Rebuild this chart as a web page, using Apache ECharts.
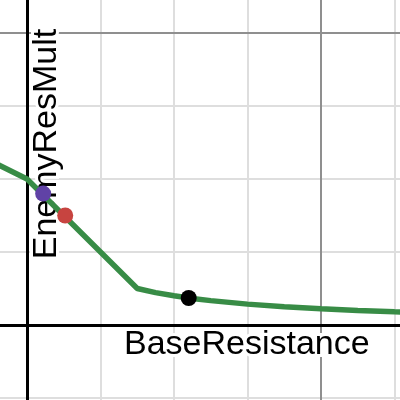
<!DOCTYPE html>
<html>
<head>
<meta charset="utf-8">
<script src="https://cdn.jsdelivr.net/npm/echarts@6/dist/echarts.min.js"></script>
<style>html,body{margin:0;padding:0;background:#fff}#c{width:400px;height:400px}</style>
</head>
<body>
<div id="c"></div>
<script>
// Data
const curveRes  = [-0.5, 0, 0.75, 0.875, 1, 1.125, 1.25, 1.5, 1.75, 2, 2.25, 2.5, 2.75, 3];
const curveMult = [1.25, 1.0, 0.25, 0.222, 0.2, 0.182, 0.167, 0.143, 0.125, 0.111, 0.1, 0.091, 0.083, 0.077];
const pointNames = ['purple', 'red', 'black'];
const pointRes  = [0.11, 0.26, 1.1];
const pointMult = [0.9, 0.75, 0.185];
const pointColors = ['#6042a6', '#c74440', '#000000'];
const xLabel = 'BaseResistance';
const yLabel = 'EnemyResMult';

const FONT = '"Liberation Sans", Arial, sans-serif';
const chart = echarts.init(document.getElementById('c'));

function axisBase(extra) {
  return Object.assign({
    type: 'value', min: -2, max: 3, gridIndex: 0,
    axisLabel: { show: false }, axisTick: { show: false },
    axisLine: { show: false }, splitLine: { show: false }
  }, extra);
}
function yBase(extra) {
  const a = axisBase(extra); a.max = 2.5; return a;
}

const curveData = curveRes.map((x, i) => [x, curveMult[i]]);

chart.setOption({
  animation: false,
  backgroundColor: '#ffffff',
  grid: { left: -267, right: -68, top: -40, bottom: -217, containLabel: false, outerBoundsMode: 'none' },
  xAxis: [
    axisBase({ interval: 0.5, z: 0, splitLine: { show: true, lineStyle: { color: '#dedede', width: 2 } } }),
    axisBase({ interval: 4, z: 1, splitLine: { show: true, lineStyle: { color: '#8f8f8f', width: 2 } } }),
    axisBase({ interval: 0.5, z: 3, axisLine: { show: true, onZero: true, lineStyle: { color: '#000', width: 3 } } })
  ],
  yAxis: [
    yBase({ interval: 0.5, z: 0, splitLine: { show: true, lineStyle: { color: '#dedede', width: 2 } } }),
    yBase({ interval: 4, z: 1, splitLine: { show: true, lineStyle: { color: '#8f8f8f', width: 2 } } }),
    yBase({ interval: 0.5, z: 3, axisLine: { show: true, onZero: true, lineStyle: { color: '#000', width: 3 } } })
  ],
  graphic: [
    { type: 'text', z: 2, x: 124, y: 345,
      style: { text: xLabel, font: '34px ' + FONT, fill: '#000', stroke: '#fff', lineWidth: 6, strokeFirst: true,
               align: 'left', verticalAlign: 'middle' } },
    { type: 'text', z: 2, x: 47, y: 144, rotation: Math.PI / 2,
      style: { text: yLabel, font: '34px ' + FONT, fill: '#000', stroke: '#fff', lineWidth: 6, strokeFirst: true,
               align: 'center', verticalAlign: 'middle' } }
  ],
  series: [
    { type: 'line', z: 4, xAxisIndex: 0, yAxisIndex: 0, data: curveData, showSymbol: false, symbol: 'none',
      lineStyle: { color: '#388c46', width: 5.5 }, silent: true },
    { type: 'scatter', z: 5, xAxisIndex: 0, yAxisIndex: 0, symbolSize: 16,
      data: pointRes.map((x, i) => ({ name: pointNames[i], value: [x, pointMult[i]], itemStyle: { color: pointColors[i], opacity: 1 } })) }
  ]
});
</script>
</body>
</html>
